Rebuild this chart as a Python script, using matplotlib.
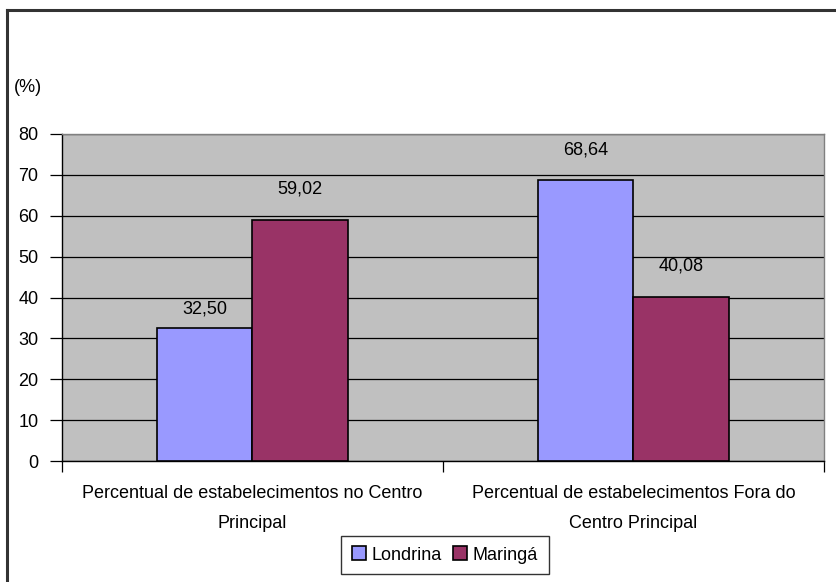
import matplotlib.pyplot as plt
import numpy as np

plt.rcParams['font.family'] = ['Liberation Sans', 'DejaVu Sans']

categories = ['Percentual de estabelecimentos no Centro\nPrincipal',
              'Percentual de estabelecimentos Fora do\nCentro Principal']
series = ['Londrina', 'Maringá']
londrina = [32.50, 68.64]
maringa = [59.02, 40.08]
value_labels = [['32,50', '68,64'], ['59,02', '40,08']]
colors = ['#9999ff', '#993366']

fs = 13
fig = plt.figure(figsize=(8.37, 5.82), dpi=100)
ax = fig.add_axes([62 / 837, 1 - 461 / 582, (824 - 62) / 837, (461 - 134) / 582])

# frame around the chart (only left and top show in the picture)
fig.add_artist(plt.Line2D([7 / 837, 7 / 837], [0, 1 - 10 / 582], color='#333333', lw=2.2,
                          transform=fig.transFigure))
fig.add_artist(plt.Line2D([7 / 837, 1], [1 - 10 / 582, 1 - 10 / 582], color='#333333', lw=2.2,
                          transform=fig.transFigure))

x = np.arange(len(categories)) + 0.5
w = 0.25
ax.set_facecolor('#c0c0c0')
ax.set_axisbelow(True)
for i, vals in enumerate([londrina, maringa]):
    pos = x + (i - 0.5) * w
    ax.bar(pos, vals, w, color=colors[i], edgecolor='black', linewidth=1.2,
           label=series[i], zorder=3)
    for j, (p, v, t) in enumerate(zip(pos, vals, value_labels[i])):
        # the first label sits closer to its bar in the original
        off = 7.5 if (i, j) == (0, 0) else 16
        ax.annotate(t, (p, v), xytext=(0, off), textcoords='offset points',
                    ha='center', va='bottom', fontsize=fs)

ax.set_xlim(0, 2)
ax.set_ylim(0, 80)
ax.set_yticks(range(0, 81, 10))
ax.yaxis.grid(True, color='black', linewidth=0.9)
ax.tick_params(axis='y', direction='out', length=9, width=0.9, labelsize=fs, pad=8)

ax.set_xticks([0, 1, 2])
ax.set_xticklabels([])
ax.tick_params(axis='x', direction='out', length=8, width=0.9)
ax.set_xticks(x, minor=True)
ax.set_xticklabels(categories, minor=True, fontsize=fs, linespacing=2.0)
ax.tick_params(axis='x', which='minor', length=0, pad=17)

for s in ['left', 'bottom']:
    ax.spines[s].set_color('black')
    ax.spines[s].set_linewidth(1.0)
for s in ['top', 'right']:
    ax.spines[s].set_color('#808080')
    ax.spines[s].set_linewidth(1.0)

fig.text(14 / 837, 1 - 88 / 582, '(%)', fontsize=fs, ha='left', va='center')

leg = ax.legend(loc='center', bbox_to_anchor=(445 / 837, 1 - 555 / 582),
                bbox_transform=fig.transFigure, ncol=2, frameon=True, fancybox=False,
                edgecolor='black', fontsize=fs, handlelength=0.8, handleheight=0.8,
                handletextpad=0.3, columnspacing=0.6, borderpad=0.6)
leg.get_frame().set_linewidth(1.0)

fig.savefig('out.png', dpi=100)
